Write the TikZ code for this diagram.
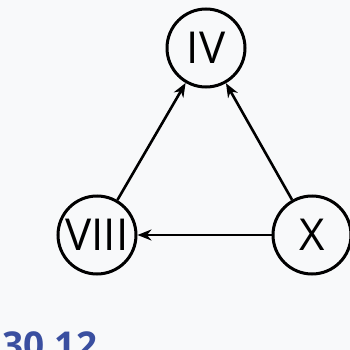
\documentclass[tikz,border=0pt]{standalone}
\usepackage{fontspec}
\setmainfont{Open Sans}
\usetikzlibrary{arrows.meta}
\definecolor{bg}{HTML}{F8F9FA}
\definecolor{numblue}{HTML}{3A4FA0}
\begin{document}
\begin{tikzpicture}[x=1pt,y=-1pt,
  vert/.style={circle,draw,line width=3pt,minimum size=78pt,inner sep=0pt,font=\fontsize{44}{44}\selectfont},
  arr/.style={line width=2.6pt,-{Stealth[length=14pt,width=11pt]}}]
\fill[bg] (0,0) rectangle (350,350);
\useasboundingbox (0,0) rectangle (350,350);
\node[vert] (iv) at (206,48) {IV};
\node[vert] (viii) at (97,235) {VIII};
\node[vert] (x) at (312,235) {X};
\draw[arr] (viii) -- (iv);
\draw[arr] (x) -- (iv);
\draw[arr] (x) -- (viii);
\node[anchor=north west,inner sep=0pt,text=numblue,font=\bfseries\fontsize{37}{37}\selectfont] (lbl) at (2,331) {30.12.};
\end{tikzpicture}
\end{document}
